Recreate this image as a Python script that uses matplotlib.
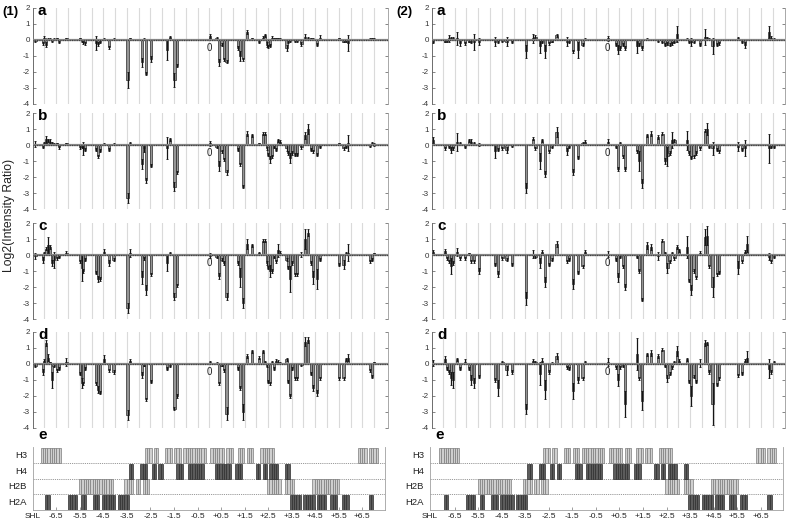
import numpy as np
import matplotlib
matplotlib.use('Agg')
import matplotlib.pyplot as plt

plt.rcParams['font.family'] = ['Liberation Sans', 'DejaVu Sans']

# ---------------- data (positions in nucleotides from the dyad) ----------------
LEFT_POS = [-76.8, -73.6, -72.8, -72.0, -71.2, -70.4, -69.6, -68.8, -67.3, -66.2,
            -63.1, -57.2, -56.4, -55.6, -54.8, -50.0, -49.2, -48.4, -46.4, -44.4,
            -42.3, -36.1, -34.9, -29.8, -28.8, -27.9, -25.7, -18.7, -17.3, -15.4,
            -14.4, 0.3, 3.2, 4.4, 5.4, 6.6, 7.6, 12.6, 13.5, 14.7,
            16.7, 18.9, 21.9, 23.8, 24.7, 25.3, 26.1, 26.9, 27.7, 28.5,
            29.3, 30.4, 31.1, 34.1, 34.9, 35.8, 36.7, 37.7, 38.9, 40.7,
            42.4, 43.6, 44.8, 45.8, 47.6, 48.8, 57.3, 59.3, 60.4, 61.3,
            70.8, 72.0, 72.9]

L_A_VAL = [-0.05, -0.2, 0.15, -0.3, 0.05, 0.05, -0.05, 0.05, 0.1, -0.1,
           0.1, 0.1, -0.05, -0.15, -0.2, -0.2, -0.25, -0.1, 0.05, -0.45,
           0.05, -2.5, 0.1, -1.4, 0.05, -2.1, -1.2, -0.6, 0.2, -2.5,
           -1.6, 0.25, 0.1, -1.4, -0.3, -1.2, -1.35, -0.5, -1.0, -1.2,
           0.5, 0.1, -0.1, 0.15, 0.3, -0.3, -0.4, -0.35, 0.15, 0.1,
           0.1, 0.1, 0.05, -0.5, -0.1, -0.05, 0.02, -0.05, -0.05, -0.25,
           0.2, 0.1, 0.1, 0.05, -0.3, 0.15, 0.1, -0.1, -0.05, -0.2,
           0.05, 0.1, 0.05]
L_A_ERR = [0.05, 0.1, 0.1, 0.15, 0.05, 0.05, 0.05, 0.05, 0.05, 0.1,
           0.05, 0.05, 0.1, 0.1, 0.1, 0.45, 0.1, 0.1, 0.05, 0.1,
           0.05, 0.5, 0.05, 0.3, 0.05, 0.1, 0.2, 0.65, 0.05, 0.45,
           0.1, 0.1, 0.1, 0.2, 0.1, 0.1, 0.1, 0.1, 0.3, 0.1,
           0.1, 0.05, 0.1, 0.1, 0.1, 0.15, 0.1, 0.1, 0.1, 0.05,
           0.05, 0.05, 0.05, 0.2, 0.1, 0.05, 0.05, 0.05, 0.05, 0.1,
           0.15, 0.1, 0.05, 0.05, 0.1, 0.15, 0.05, 0.05, 0.05, 0.5,
           0.05, 0.05, 0.05]

L_B_VAL = [0.05, -0.1, 0.1, 0.35, 0.3, 0.2, 0.1, 0.05, 0.1, -0.15,
           0.1, -0.1, -0.1, -0.2, -0.3, -0.3, -0.7, -0.35, 0.05, -0.3,
           0.05, -3.3, 0.1, -1.2, -0.2, -2.2, -1.3, -0.2, 0.35, -2.6,
           -1.7, 0.1, -0.1, -1.3, -0.4, -0.9, -1.7, -0.3, -1.2, -2.6,
           0.7, 0.6, 0.1, 0.7, 0.7, -0.2, -0.6, -0.9, -0.7, -0.1,
           -0.3, 0.3, 0.2, -0.2, -0.5, -0.8, -0.5, -0.6, -0.6, -0.15,
           0.6, 1.0, -0.3, -0.4, -0.6, -0.1, 0.1, -0.2, -0.1, 0.1,
           -0.05, 0.1, 0.05]
L_B_ERR = [0.2, 0.1, 0.1, 0.2, 0.1, 0.2, 0.1, 0.05, 0.05, 0.1,
           0.05, 0.15, 0.1, 0.4, 0.1, 0.1, 0.1, 0.1, 0.05, 0.1,
           0.05, 0.3, 0.1, 0.3, 0.25, 0.15, 0.1, 0.7, 0.1, 0.3,
           0.1, 0.15, 0.1, 0.3, 0.1, 0.1, 0.15, 0.1, 0.1, 0.1,
           0.15, 0.1, 0.05, 0.1, 0.1, 0.1, 0.1, 0.2, 0.1, 0.1,
           0.1, 0.1, 0.1, 0.2, 0.1, 0.3, 0.1, 0.1, 0.1, 0.1,
           0.2, 0.3, 0.1, 0.1, 0.1, 0.1, 0.05, 0.1, 0.1, 0.5,
           0.1, 0.1, 0.1]

L_C_VAL = [-0.05, -0.3, 0.1, 0.4, 0.6, 0.5, -0.5, -0.3, -0.2, -0.1,
           0.15, -0.4, -0.8, -1.0, -0.3, -1.1, -1.5, -1.5, 0.2, -0.5,
           -0.3, -3.3, 0.15, -1.4, -0.2, -2.2, -1.2, -0.5, 0.1, -2.6,
           -1.9, -0.05, -0.1, -1.3, -0.3, -0.5, -2.6, -0.5, -1.4, -3.0,
           0.7, 0.6, 0.15, 0.9, 0.9, -0.5, -0.8, -1.0, -1.0, -0.1,
           -0.4, 0.3, 0.15, -0.3, -0.8, -1.5, -0.5, -1.2, -1.2, 0.05,
           1.0, 1.4, -0.5, -1.4, -1.5, -0.3, -0.6, -0.6, 0.1, 0.15,
           -0.4, -0.3, 0.1]
L_C_ERR = [0.2, 0.2, 0.1, 0.1, 0.5, 0.1, 0.2, 0.5, 0.1, 0.1,
           0.1, 0.1, 0.8, 0.1, 0.1, 0.1, 0.2, 0.1, 0.2, 0.2,
           0.1, 0.3, 0.25, 0.4, 0.1, 0.3, 0.1, 0.5, 0.1, 0.2,
           0.1, 0.15, 0.1, 0.2, 0.1, 0.1, 0.2, 0.1, 0.6, 0.3,
           0.3, 0.1, 0.05, 0.1, 0.1, 0.1, 0.1, 0.4, 0.1, 0.1,
           0.1, 0.4, 0.1, 0.1, 0.1, 0.8, 0.1, 0.1, 0.1, 0.15,
           0.6, 0.2, 0.1, 0.4, 0.6, 0.1, 0.1, 0.3, 0.1, 0.55,
           0.1, 0.1, 0.05]

L_D_VAL = [-0.1, -0.5, 0.2, 1.3, 0.4, 0.1, -1.0, -0.1, -0.4, -0.3,
           0.15, -0.6, -1.2, -1.2, -0.3, -1.2, -1.6, -1.8, 0.3, -0.4,
           -0.5, -3.2, 0.2, -0.7, -0.1, -2.2, -1.1, -0.3, -0.1, -2.8,
           -2.0, 0.1, 0.05, -1.2, -0.1, -0.4, -3.1, -0.3, -1.5, -3.0,
           0.5, 0.8, 0.4, 0.8, 0.1, -0.1, -1.1, -1.2, 0.1, -0.3,
           0.2, 0.15, 0.05, 0.3, -1.1, -2.0, -0.3, -0.9, -0.9, -0.05,
           1.4, 1.5, -0.6, -1.5, -1.8, -0.9, -0.9, -0.9, 0.3, 0.4,
           -0.4, -0.8, 0.1]
L_D_ERR = [0.1, 0.2, 0.1, 0.2, 0.2, 0.05, 0.5, 0.1, 0.1, 0.1,
           0.25, 0.1, 0.3, 0.1, 0.1, 0.1, 0.2, 0.1, 0.25, 0.1,
           0.1, 0.3, 0.1, 0.2, 0.05, 0.1, 0.1, 0.1, 0.1, 0.1,
           0.1, 0.1, 0.05, 0.1, 0.05, 0.1, 0.4, 0.1, 0.1, 0.5,
           0.1, 0.1, 0.1, 0.1, 0.1, 0.1, 0.1, 0.1, 0.1, 0.1,
           0.1, 0.1, 0.05, 0.1, 0.1, 0.1, 0.1, 0.1, 0.1, 0.05,
           0.3, 0.2, 0.1, 0.2, 0.2, 0.1, 0.1, 0.1, 0.1, 0.2,
           0.1, 0.1, 0.05]

RIGHT_POS = [-77.1, -71.8, -71.0, -70.2, -69.4, -68.4, -66.4, -65.2, -63.1, -61.2,
             -60.2, -59.0, -56.9, -49.6, -48.6, -46.5, -44.7, -42.2, -36.0, -32.9,
             -31.9, -29.9, -28.9, -27.7, -26.0, -24.8, -22.6, -18.1, -17.1, -15.2,
             -13.0, -11.1, -9.9, 0.3, 3.5, 4.4, 5.5, 6.9, 7.7, 12.8,
             13.9, 15.0, 17.3, 19.2, 22.4, 24.2, 25.4, 26.4, 27.3, 28.3,
             29.5, 30.7, 31.6, 34.9, 35.9, 36.9, 37.9, 38.9, 40.9, 42.8,
             43.8, 44.8, 46.3, 48.4, 49.3, 57.5, 59.3, 60.8, 61.7, 71.4,
             72.3, 73.3]

N = np.nan
R_A_VAL = [-0.1, -0.1, -0.05, 0.1, 0.1, 0.1, 0.1, -0.2, -0.2, -0.1,
           -0.1, -0.1, -0.1, -0.1, -0.1, -0.05, -0.1, -0.1, -0.7, 0.1,
           0.2, -0.4, -0.1, -0.7, -0.2, -0.1, 0.3, -0.1, -0.1, -0.7,
           -0.6, -0.3, 0.05, 0.1, -0.3, -0.6, -0.5, -0.3, -0.5, -0.4,
           -0.3, -0.5, 0.05, N, -0.05, -0.1, -0.3, -0.2, -0.3, -0.2,
           -0.1, 0.4, N, 0.05, -0.1, -0.15, -0.1, N, -0.3, 0.2,
           0.1, 0.05, -0.4, -0.3, -0.2, 0.1, -0.1, -0.3, N, 0.5,
           0.15, 0.05]
R_A_ERR = [0.1, 0.05, 0.05, 0.2, 0.1, 0.1, 0.4, 0.2, 0.1, 0.05,
           0.1, 0.5, 0.2, 0.3, 0.1, 0.05, 0.3, 0.1, 0.4, 0.3,
           0.1, 0.4, 0.1, 0.4, 0.1, 0.05, 0.1, 0.3, 0.1, 0.1,
           0.5, 0.1, 0.05, 0.15, 0.1, 0.3, 0.1, 0.1, 0.1, 0.4,
           0.1, 0.1, 0.05, 0.1, 0.05, 0.1, 0.1, 0.1, 0.1, 0.1,
           0.1, 0.5, 0.1, 0.05, 0.1, 0.25, 0.1, 0.1, 0.1, 0.5,
           0.1, 0.05, 0.5, 0.1, 0.1, 0.1, 0.1, 0.2, 0.1, 0.4,
           0.1, 0.05]

R_B_VAL = [0.3, -0.2, N, -0.1, -0.3, -0.2, 0.2, 0.1, -0.1, 0.3,
           0.2, 0.1, 0.05, -0.4, -0.3, -0.2, -0.3, -0.05, -2.7, 0.4,
           -0.2, -1.0, 0.3, -1.8, -0.4, -0.1, 0.8, -0.4, -0.1, -1.7,
           -0.8, 0.1, 0.2, 0.2, -0.1, -1.5, 0.1, -0.7, -1.5, -0.4,
           -1.0, -2.4, 0.6, 0.7, 0.5, 0.7, -1.0, -0.7, -0.5, 0.3,
           0.3, N, N, 0.3, -0.5, -0.8, -0.7, -0.5, -0.2, 0.9,
           1.0, -0.1, -0.2, -0.3, -0.4, -0.1, -0.3, -0.2, N, -0.2,
           -0.1, -0.1]
R_B_ERR = [0.2, 0.1, 0.1, 0.1, 0.2, 0.1, 0.55, 0.1, 0.1, 0.1,
           0.2, 0.1, 0.1, 0.4, 0.1, 0.1, 0.2, 0.05, 0.3, 0.1,
           0.1, 0.5, 0.1, 0.2, 0.1, 0.1, 0.3, 0.2, 0.1, 0.2,
           0.1, 0.1, 0.1, 0.2, 0.1, 0.1, 0.1, 0.1, 0.1, 0.1,
           0.6, 0.3, 0.1, 0.15, 0.1, 0.1, 0.2, 0.6, 0.1, 0.5,
           0.1, 0.1, 0.1, 0.6, 0.1, 0.1, 0.1, 0.1, 0.1, 0.1,
           0.4, 0.1, 0.4, 0.1, 0.1, 0.3, 0.1, 0.5, 0.1, 0.9,
           0.1, 0.1]

R_C_VAL = [0.2, 0.25, -0.2, -0.4, -0.7, -0.5, 0.2, -0.2, -0.2, 0.1,
           -0.4, -0.4, -1.0, -0.6, -1.2, -0.2, -0.3, -0.6, -2.7, 0.05,
           -0.1, -0.5, 0.2, -1.7, -0.6, -0.3, 0.7, -0.4, -0.3, -1.8,
           -1.1, -0.7, 0.2, 0.05, -0.3, -1.4, -0.1, -0.7, -2.0, -0.1,
           -1.0, -2.8, 0.6, 0.5, -0.05, 0.9, 0.1, -0.8, -0.4, 0.1,
           -0.2, 0.5, 0.3, 0.5, -1.6, -2.2, -1.0, -1.4, 0.15, 1.1,
           1.2, -0.7, -2.0, -1.2, -1.1, -0.8, -0.4, 0.2, 0.7, -0.1,
           -0.4, -0.1]
R_C_ERR = [0.1, 0.1, 0.1, 0.1, 0.5, 0.1, 0.25, 0.1, 0.1, 0.05,
           0.1, 0.1, 0.2, 0.1, 0.2, 0.1, 0.1, 0.1, 0.4, 0.25,
           0.1, 0.3, 0.1, 0.3, 0.1, 0.1, 0.2, 0.1, 0.1, 0.3,
           0.1, 0.1, 0.1, 0.2, 0.1, 0.3, 0.1, 0.1, 0.2, 0.1,
           0.1, 0.1, 0.2, 0.2, 0.25, 0.1, 0.1, 0.3, 0.1, 0.1,
           0.1, 0.1, 0.1, 0.7, 0.1, 0.3, 0.1, 0.1, 0.1, 0.5,
           0.6, 0.1, 0.6, 0.1, 0.1, 0.4, 0.1, 0.1, 0.5, 0.2,
           0.1, 0.1]

R_D_VAL = [0.05, 0.3, -0.3, -0.5, -0.9, -1.0, 0.3, -0.3, 0.15, -0.3,
           -1.0, -1.2, -0.8, -1.0, -1.5, 0.1, -0.4, -0.5, -2.8, 0.2,
           0.1, -0.6, 0.2, -1.6, -0.5, 0.05, 0.5, -0.2, -0.3, -1.7,
           -1.0, -0.9, 0.1, 0.1, -0.2, -1.0, -0.2, -0.1, -2.5, 0.6,
           -0.9, -2.3, 0.6, 0.7, 0.5, 0.9, -0.1, -0.9, -0.6, -0.2,
           0.1, 0.8, 0.2, 0.3, -1.1, -2.0, -0.8, -1.1, 0.05, 1.3,
           1.3, -0.5, -2.5, -1.3, -0.9, -0.7, -0.6, 0.2, 0.4, -0.3,
           -0.5, 0.1]
R_D_ERR = [0.2, 0.2, 0.1, 0.1, 0.4, 0.5, 0.1, 0.1, 0.15, 0.1,
           0.3, 0.3, 0.1, 0.1, 0.5, 0.1, 0.3, 0.1, 0.3, 0.1,
           0.1, 0.7, 0.2, 0.6, 0.1, 0.05, 0.2, 0.1, 0.1, 0.5,
           0.2, 0.1, 0.1, 0.25, 0.1, 0.4, 0.1, 0.1, 0.8, 1.0,
           0.1, 0.6, 0.1, 0.2, 0.1, 0.1, 0.1, 0.2, 0.1, 0.1,
           0.1, 0.3, 0.1, 0.1, 0.1, 0.6, 0.1, 0.1, 0.25, 0.2,
           0.1, 0.1, 1.3, 0.1, 0.1, 0.1, 0.1, 0.1, 0.4, 0.6,
           0.1, 0.1]

# histone contacts (nucleotide spans, inclusive)
H3_SPANS = [(-74, -71), (-70, -66), (-28, -26), (-24, -23), (-19, -17), (-15, -13),
            (-11, -7), (-6, -2), (1, 6), (8, 10), (13, 15), (17, 19), (23, 25),
            (26, 28), (66, 69), (71, 74)]
H4_SPANS = [(-35, -34), (-30, -28), (-25, -24), (-22, -21), (-14, -12), (-9, -6),
            (-5, -3), (3, 5), (6, 9), (12, 14), (21, 22), (24, 25), (27, 30), (34, 35)]
H2B_SPANS = [(-57, -43), (-37, -34), (-32, -31), (-29, -27), (26, 29), (30, 31),
             (34, 37), (46, 57)]
H2A_SPANS = [(-72, -71), (-62, -59), (-56, -55), (-51, -49), (-47, -42), (-40, -38),
             (-37, -36), (36, 40), (42, 46), (48, 51), (54, 56), (59, 61), (71, 72)]
ROW_NAMES = ['H2A', 'H2B', 'H4', 'H3']
SHL_TICKS = [-6.5, -5.5, -4.5, -3.5, -2.5, -1.5, -0.5, 0.5, 1.5, 2.5, 3.5, 4.5, 5.5, 6.5]
SHL_LABELS = ['-6.5', '-5.5', '-4.5', '-3.5', '-2.5', '-1.5', '-0.5',
              '+0.5', '+1.5', '+2.5', '+3.5', '+4.5', '+5.5', '+6.5']
BP_PER_SHL = 10.4

# ---------------- figure ----------------
W, H = 787, 524
fig = plt.figure(figsize=(W / 100, H / 100), dpi=100)


def px_axes(x0, y0, x1, y1):
    return fig.add_axes([x0 / W, 1 - y1 / H, (x1 - x0) / W, (y1 - y0) / H])


GRID = np.arange(-14, 15) * 0.5 * BP_PER_SHL


def draw_panel(ax, pos, val, err, label, xlim):
    pos = np.asarray(pos, float)
    val = np.asarray(val, float)
    err = np.asarray(err, float)
    m = ~np.isnan(val)
    for g in GRID:
        ax.axvline(g, color='#dadada', lw=0.8, zorder=0)
    ax.bar(pos[m], val[m], width=0.95, color='#959595', edgecolor='#2a2a2a',
           linewidth=0.5, zorder=2)
    ax.errorbar(pos[m], val[m], yerr=err[m], fmt='none', ecolor='#141414',
                elinewidth=0.9, capsize=0.9, capthick=0.6, zorder=3)
    ax.axhline(0, color='#8a8a8a', lw=1.6, zorder=4)
    ax.axhline(0, color='#3a3a3a', lw=0.9, ls=(0, (0.7, 0.7)), zorder=5)
    ax.set_xlim(*xlim)
    ax.set_ylim(-4, 2)
    ax.set_yticks([2, 1, 0, -1, -2, -3, -4])
    ax.set_yticklabels(['2', '1', '0', '-1', '-2', '-3', '-4'], fontsize=5.8,
                       color='#333333')
    ax.tick_params(axis='y', direction='in', length=2.5, width=0.5, pad=2,
                   colors='#555555', labelcolor='#333333', right=True)
    ax.set_xticks([])
    for s in ('top', 'bottom'):
        ax.spines[s].set_visible(False)
    ax.spines['left'].set_color('#555555')
    ax.spines['left'].set_linewidth(0.6)
    ax.spines['right'].set_color('#9a9a9a')
    ax.spines['right'].set_linewidth(0.6)
    ax.text(0.014, 0.925, label, transform=ax.transAxes, fontsize=11,
            fontweight='bold', va='baseline', ha='left', zorder=6)
    ax.text(-0.2, -0.5, '0', fontsize=7, ha='center', va='center',
            color='#222222', zorder=6)
    ax.patch.set_alpha(0)


def draw_contacts(ax, xlim, dx_label):
    spans_by_row = [H2A_SPANS, H2B_SPANS, H4_SPANS, H3_SPANS]
    styles = [('#5c5c5c', '#2e2e2e'), ('#cfcfcf', '#7c7c7c'),
              ('#5c5c5c', '#2e2e2e'), ('#cfcfcf', '#7c7c7c')]
    for r, (spans, (fc, ec)) in enumerate(zip(spans_by_row, styles)):
        xs = []
        for a, b in spans:
            xs.extend(range(a, b + 1))
        ax.bar(xs, [0.97] * len(xs), bottom=r, width=1.0, color=fc,
               edgecolor=ec, linewidth=0.5, align='center', zorder=2)
    for yline in (1, 2, 3):
        ax.axhline(yline, color='#9a9a9a', lw=0.7, ls=(0, (1.2, 1.0)), zorder=1)
    ax.set_xlim(*xlim)
    ax.set_ylim(0, 4.05)
    ax.set_yticks([])
    ticks = [t * BP_PER_SHL for t in SHL_TICKS]
    ax.set_xticks(ticks)
    ax.set_xticklabels(SHL_LABELS, fontsize=6.0, color='#222222')
    ax.tick_params(axis='x', direction='in', length=2, width=0.5, pad=1.8,
                   colors='#777777', labelcolor='#222222')
    ax.spines['top'].set_visible(False)
    for s in ('left', 'right', 'bottom'):
        ax.spines[s].set_color('#a0a0a0')
        ax.spines[s].set_linewidth(0.6)
    for r, name in enumerate(ROW_NAMES):
        ax.text(dx_label, r + 0.5, name, transform=ax.get_yaxis_transform(),
                fontsize=6.8, ha='right', va='center', color='#222222')
    ax.text(0.014, 1.13, 'e', transform=ax.transAxes, fontsize=11,
            fontweight='bold', va='baseline', ha='left')
    ax.text(0.0, -0.105, 'SHL', transform=ax.transAxes, fontsize=6.0,
            ha='center', va='center', color='#222222')


SCALE = 0.4417  # nucleotides per pixel
PANEL_ROWS = [(8, 104), (113, 209), (223, 319), (332, 428)]
LABELS = ['a', 'b', 'c', 'd']

columns = [
    dict(x0=33, x1=388, dyad=209.3, ex0=33, ex1=385,
         data=[(L_A_VAL, L_A_ERR), (L_B_VAL, L_B_ERR), (L_C_VAL, L_C_ERR), (L_D_VAL, L_D_ERR)],
         pos=LEFT_POS),
    dict(x0=432, x1=785, dyad=607.7, ex0=430, ex1=783,
         data=[(R_A_VAL, R_A_ERR), (R_B_VAL, R_B_ERR), (R_C_VAL, R_C_ERR), (R_D_VAL, R_D_ERR)],
         pos=RIGHT_POS),
]

for col in columns:
    xlim = ((col['x0'] - col['dyad']) * SCALE, (col['x1'] - col['dyad']) * SCALE)
    for (y0, y1), lab, (v, e) in zip(PANEL_ROWS, LABELS, col['data']):
        ax = px_axes(col['x0'], y0, col['x1'], y1)
        draw_panel(ax, col['pos'], v, e, lab, xlim)
    exlim = ((col['ex0'] - col['dyad']) * SCALE, (col['ex1'] - col['dyad']) * SCALE)
    axe = px_axes(col['ex0'], 447, col['ex1'], 510)
    draw_contacts(axe, exlim, -6 / (col['ex1'] - col['ex0']))

fig.text(2 / W, 1 - 15 / H, '(1)', fontsize=9.5, fontweight='bold', va='baseline')
fig.text(396 / W, 1 - 15 / H, '(2)', fontsize=9.5, fontweight='bold', va='baseline')
fig.text(9 / W, 1 - 215 / H, 'Log2(Intensity Ratio)', rotation=90, fontsize=8.8,
         ha='center', va='center', color='#222222')

fig.savefig('out.png', dpi=100)
